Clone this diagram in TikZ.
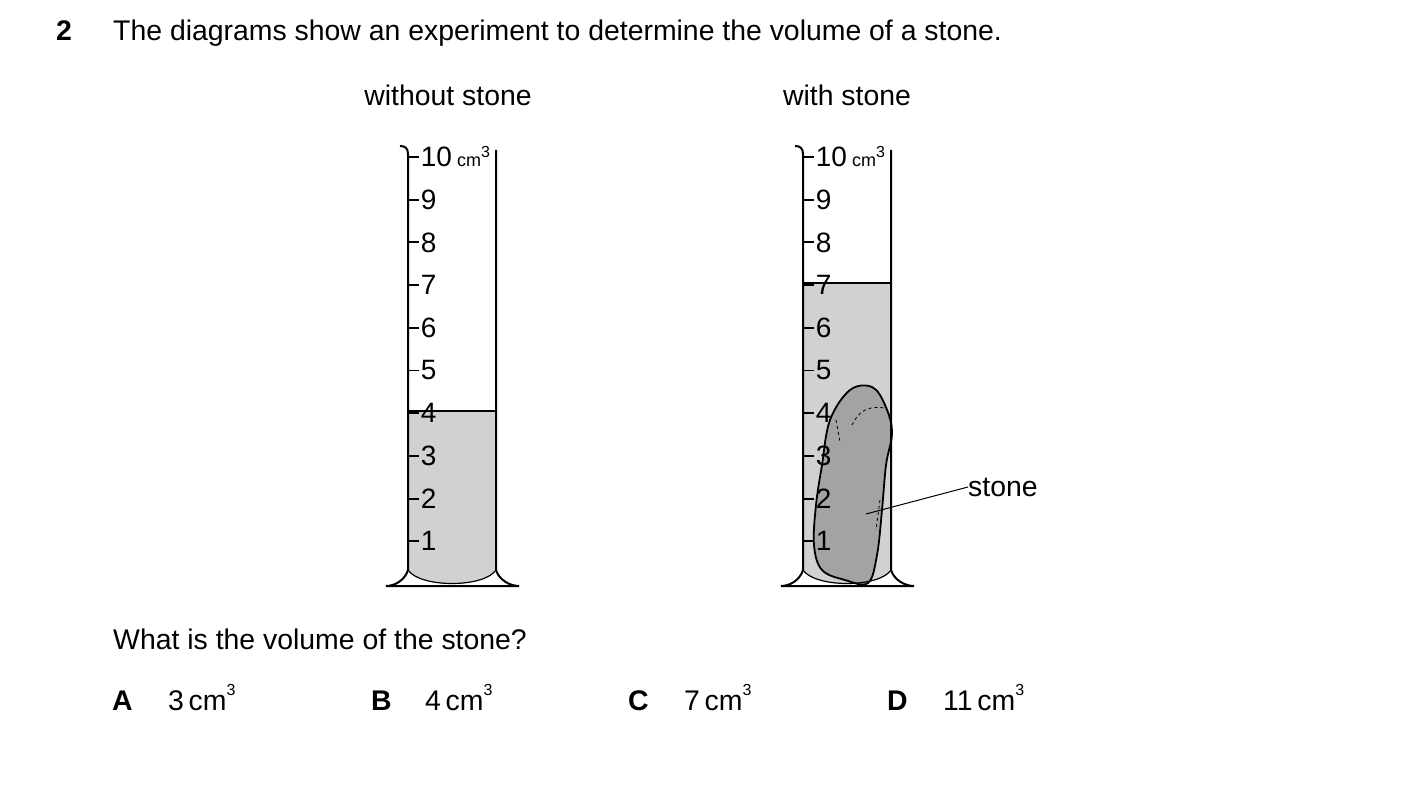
\documentclass[tikz,border=0pt]{standalone}
\usepackage{fontspec}
\setmainfont{Liberation Sans}
\usetikzlibrary{positioning}
\definecolor{water}{gray}{0.82}
\definecolor{rock}{gray}{0.64}
\tikzset{
  txt/.style={inner sep=0pt, anchor=base west, font=\fontsize{28.4}{32}\selectfont},
  bold/.style={txt, font=\fontsize{28.4}{32}\selectfont\bfseries},
  num/.style={inner sep=0pt, anchor=west, font=\fontsize{28}{32}\selectfont},
  wall/.style={line width=2pt},
}
\newcommand{\cubed}[1]{\raisebox{0.5em}{\fontsize{16}{18}\selectfont #1}}
\newcommand{\cylinder}[3]{% x shift, water level y, contents
  \begin{scope}[xshift=#1]
    \fill [water] (408, #2) -- (408, 570) .. controls (420, 588) and (484, 588) .. (496, 570) -- (496, #2) -- cycle;
    \draw [line width=1.2pt] (408, #2) -- (496, #2);
    #3
    \draw [wall] (400, 146) .. controls (405, 146) and (408, 148) .. (408, 154) -- (408, 570)
      .. controls (405, 580) and (395, 586) .. (386, 586) -- (519, 586)
      .. controls (510, 586) and (499, 580) .. (496, 570) -- (496, 150);
    \draw [line width=1.2pt] (408, 570) .. controls (420, 588) and (484, 588) .. (496, 570);
    \foreach \v in {1,...,10}
      \draw [line width=1.8pt] (408, {584-42.7*\v}) -- (419, {584-42.7*\v})
        node [num, right=1pt] {\v};
    \node [inner sep=0pt, anchor=west, font=\fontsize{18}{18}\selectfont] at (457, 157) {cm\cubed{3}};
  \end{scope}
}
\begin{document}
\begin{tikzpicture}[x=1pt, y=-1pt]
  \useasboundingbox (0, 0) rectangle (1403, 810);
  \node [bold] (qnum) at (56, 41) {2};
  \node [txt] (title) at (113, 41) {The diagrams show an experiment to determine the volume of a stone.};
  \node [txt, anchor=base] (lblA) at (448, 106) {without stone};
  \node [txt, anchor=base] (lblB) at (847, 106) {with stone};

  \cylinder{0}{411}{}
  \cylinder{395}{283}{
    % stone
    \draw [line width=1.8pt, fill=rock, xshift=-395pt] plot [smooth cycle, tension=0.6] coordinates {
      (850, 390) (872, 387) (885, 405) (892, 432) (886, 465) (882, 510)
      (877, 555) (868, 583) (845, 580) (822, 570) (814, 545) (816, 505)
      (822, 465) (830, 420) };
    \draw [dashed, line width=0.8pt, xshift=-395pt] (852, 425) .. controls (858, 412) and (868, 405) .. (884, 408);
    \draw [dashed, line width=0.8pt, xshift=-395pt] (836, 420) -- (840, 442);
    \draw [dashed, line width=0.8pt, xshift=-395pt] (880, 500) -- (876, 530);
  }
  \coordinate (rockpt) at (866, 514);
  \node [txt, anchor=west] (stone) at (968, 487) {stone};
  \draw [line width=1pt] (rockpt) -- (stone.west);

  \node [txt] (question) at (113, 649) {What is the volume of the stone?};
  \node [bold] (optA) at (112, 710) {A};
  \node [txt] (ansA) at (168, 710) {3\,cm\cubed{3}};
  \node [bold] (optB) at (371, 710) {B};
  \node [txt] (ansB) at (425, 710) {4\,cm\cubed{3}};
  \node [bold] (optC) at (628, 710) {C};
  \node [txt] (ansC) at (684, 710) {7\,cm\cubed{3}};
  \node [bold] (optD) at (887, 710) {D};
  \node [txt] (ansD) at (943, 710) {11\,cm\cubed{3}};
\end{tikzpicture}
\end{document}
